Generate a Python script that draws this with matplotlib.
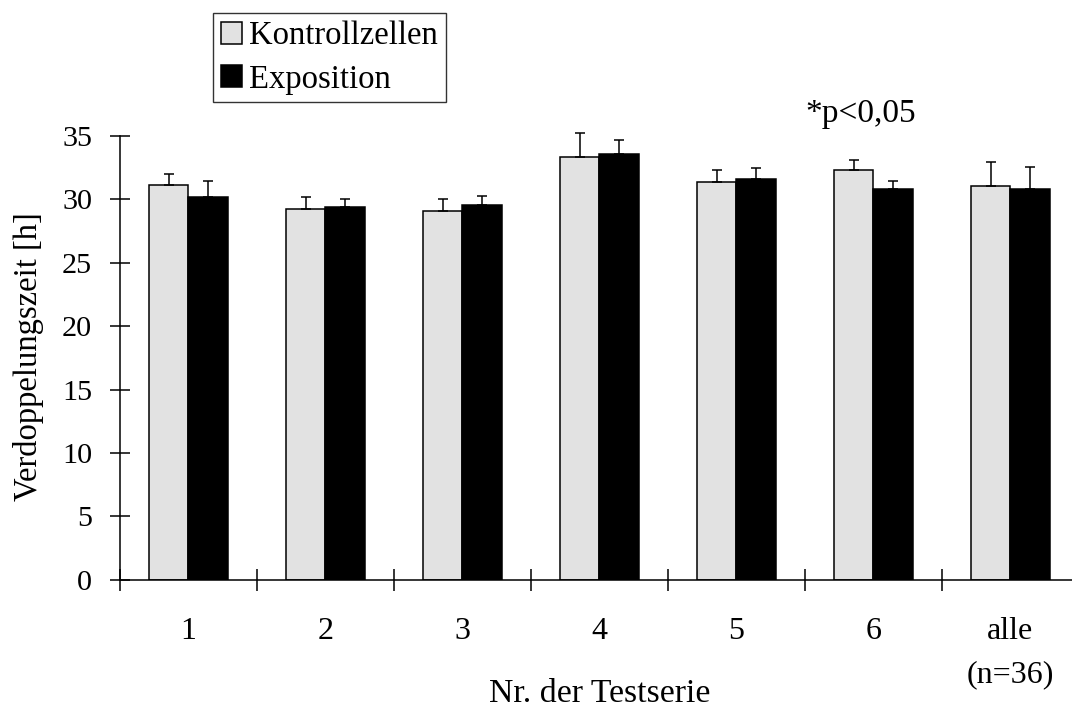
import matplotlib
matplotlib.use("Agg")
import matplotlib.pyplot as plt
from matplotlib.patches import Patch
import numpy as np

plt.rcParams["font.family"] = ["Liberation Serif", "DejaVu Serif"]

categories = ["1", "2", "3", "4", "5", "6", "alle\n(n=36)"]
kontroll = [31.15, 29.26, 29.05, 33.33, 31.36, 32.30, 31.07]
kontroll_err = [0.85, 0.90, 1.00, 1.87, 0.94, 0.84, 1.89]
exposition = [30.16, 29.40, 29.58, 33.60, 31.57, 30.79, 30.84]
exposition_err = [1.30, 0.62, 0.70, 1.09, 0.93, 0.67, 1.70]
y_ticks = [0, 5, 10, 15, 20, 25, 30, 35]

fig = plt.figure(figsize=(10.72, 7.08), dpi=100)
ax = fig.add_axes([0.1118, 0.181, 0.8946, 0.627])

x = np.arange(len(categories))
w = 0.288
lw = 1.1
light = "#e2e2e2"
ekw = dict(elinewidth=lw, capthick=lw, ecolor="black")
b1 = ax.bar(x - w / 2, kontroll, w, color=light, edgecolor="black", linewidth=lw,
            yerr=[np.zeros(len(x)), kontroll_err], capsize=3.6,
            error_kw=ekw, zorder=2)
b2 = ax.bar(x + w / 2, exposition, w, color="black", edgecolor="black", linewidth=lw,
            yerr=[np.zeros(len(x)), exposition_err], capsize=3.6,
            error_kw=ekw, zorder=2)
# let the whiskers reach above the top of the value axis
for cont in (b1, b2):
    for artist in cont.errorbar.lines[1] + cont.errorbar.lines[2]:
        artist.set_clip_on(False)

ax.set_xlim(-0.5, len(categories) - 0.5)
ax.set_ylim(0, 35)
ax.set_yticks(y_ticks)
ax.set_xticks(x)
ax.set_xticklabels(categories, linespacing=1.68, va="top", fontsize=23)
ax.set_xticks(np.arange(len(categories)) - 0.5, minor=True)
ax.tick_params(axis="x", which="major", length=0, pad=26.5)
ax.tick_params(axis="x", which="minor", direction="inout", length=16, width=lw)
ax.tick_params(axis="y", direction="inout", length=14, width=lw, pad=13,
               labelsize=21.7)

for side in ("top", "right"):
    ax.spines[side].set_visible(False)
for side in ("left", "bottom"):
    ax.spines[side].set_linewidth(lw)

ax.set_xlabel("Nr. der Testserie", fontsize=24.3)
ax.xaxis.set_label_coords(0.5, (579.5 - 702) / 444)
ax.xaxis.label.set_va("baseline")

fig.text(0.027, 0.496, "Verdoppelungszeit [h]", rotation=90, ha="center",
         va="center", fontsize=23.5)

handles = [Patch(facecolor=light, edgecolor="black", linewidth=lw),
           Patch(facecolor="black", edgecolor="black", linewidth=lw)]
leg = fig.legend(handles, ["Kontrollzellen", "Exposition"], loc="upper left",
                 bbox_to_anchor=(0.1984, 0.982), frameon=True, fancybox=False,
                 edgecolor="black", fontsize=23.5, handlelength=0.66,
                 handleheight=0.66, handletextpad=0.22, borderpad=0.24,
                 labelspacing=0.4, borderaxespad=0)
leg.get_frame().set_linewidth(1.0)

fig.text(0.803, 0.828, "*p<0,05", ha="center", va="baseline", fontsize=24)

fig.savefig("out.png", dpi=100)
